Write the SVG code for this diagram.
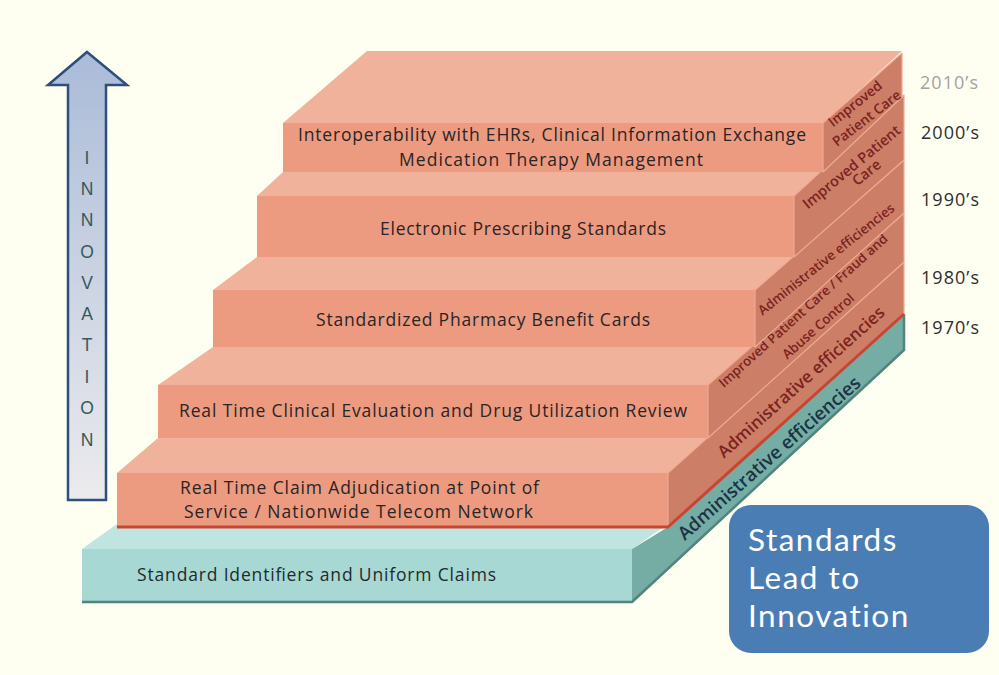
<svg xmlns="http://www.w3.org/2000/svg" width="999" height="675" viewBox="0 0 999 675">
  <defs>
    <linearGradient id="arrowFill" x1="0" y1="0" x2="0" y2="1">
      <stop offset="0" stop-color="#aabbd8"/>
      <stop offset="1" stop-color="#ecebed"/>
    </linearGradient>
    <style>
      .front { fill: #ec9b81; }
      .top { fill: #f1b29c; }
      .side { fill: #cd7e67; stroke: #eeab93; stroke-width: 1.2; stroke-linejoin: round; }
      .tfront { fill: #a7d8d3; }
      .ttop { fill: #c0e5e0; }
      .tside { fill: #75ada5; }
      .label { font-family: "Open Sans", Lato, "Liberation Sans", sans-serif; font-size: 17.5px; fill: #2a2424; text-anchor: middle; }
      .side-label { font-family: "Open Sans", Lato, "Liberation Sans", sans-serif; font-weight: 600; fill: #7a2320; text-anchor: middle; }
      .year { font-family: "Open Sans", Lato, "Liberation Sans", sans-serif; font-size: 18px; fill: #2e2e2e; }
      .arrow-letter { font-family: "Liberation Sans", Arial, sans-serif; font-size: 17.5px; fill: #35595c; text-anchor: middle; }
      .callout-text { font-family: Lato, "Open Sans", "Liberation Sans", sans-serif; font-size: 31.5px; letter-spacing: 1.5px; fill: #ffffff; }
    </style>
  </defs>

  <rect width="999" height="675" fill="#fefef1"/>

  <!-- innovation arrow -->
  <g id="innovation-arrow">
    <path d="M87,52 L127,85 L106,85 L106,500 L68,500 L68,85 L48,85 Z" fill="url(#arrowFill)" stroke="#2d4f7b" stroke-width="2.5" stroke-linejoin="miter"/>
    <text class="arrow-letter" x="87" y="164">I</text>
    <text class="arrow-letter" x="87" y="195">N</text>
    <text class="arrow-letter" x="87" y="226">N</text>
    <text class="arrow-letter" x="87" y="258">O</text>
    <text class="arrow-letter" x="87" y="289">V</text>
    <text class="arrow-letter" x="87" y="320">A</text>
    <text class="arrow-letter" x="87" y="351">T</text>
    <text class="arrow-letter" x="87" y="383">I</text>
    <text class="arrow-letter" x="87" y="414">O</text>
    <text class="arrow-letter" x="87" y="446">N</text>
  </g>

  <!-- base slab: identifiers and claims -->
  <g id="step-base">
    <polygon class="ttop" points="82,549 117,524 668,524 632,549"/>
    <polygon class="tside" points="632,549 632,602 904,350 904,314 668,527"/>
    <rect class="tfront" x="82" y="549" width="550" height="53"/>
    <polyline points="82,602 632,602 904,350 904,314" fill="none" stroke="#4f857d" stroke-width="2.5" stroke-linejoin="round"/>
    <text class="label" x="316.5" y="581" textLength="359" lengthAdjust="spacing" style="fill:#1f2b2b">Standard Identifiers and Uniform Claims</text>
    <text class="side-label" transform="translate(769,458) rotate(-41.4)" y="6.5" font-size="18.5" style="fill:#1b3343">Administrative efficiencies</text>
  </g>

  <!-- step 1: 1970s -->
  <g id="step-1970s">
    <polygon class="top" points="117,473 158,438 708,438 668,473"/>
    <rect class="front" x="117" y="473" width="551" height="54"/>
    <polygon class="side" points="668,473 668,527 904,314 904,262"/>
    <polyline points="117,527 668,527 904,314" fill="none" stroke="#c9452f" stroke-width="3" stroke-linejoin="round"/>
    <text class="label" x="359.5" y="494" textLength="359" lengthAdjust="spacing">Real Time Claim Adjudication at Point of</text>
    <text class="label" x="358.5" y="518" textLength="349" lengthAdjust="spacing">Service / Nationwide Telecom Network</text>
    <text class="side-label" transform="translate(801,382) rotate(-41.8)" y="6" font-size="17">Administrative efficiencies</text>
  </g>

  <!-- step 2: 1980s -->
  <g id="step-1980s">
    <polygon class="top" points="158,385 213,347 755,347 708,385"/>
    <rect class="front" x="158" y="385" width="550" height="53"/>
    <polygon class="side" points="708,385 708,438 904,262 904,213"/>
    <text class="label" x="433" y="417" textLength="508" lengthAdjust="spacing">Real Time Clinical Evaluation and Drug Utilization Review</text>
    <text class="side-label" transform="translate(803,310.5) rotate(-41.9)" y="4.8" font-size="13.3">Improved Patient Care / Fraud and</text>
    <text class="side-label" transform="translate(818,326) rotate(-41.5)" y="4.8" font-size="13.3">Abuse Control</text>
  </g>

  <!-- step 3: 1990s -->
  <g id="step-1990s">
    <polygon class="top" points="213,290 257,257 794,257 755,290"/>
    <rect class="front" x="213" y="290" width="542" height="57"/>
    <polygon class="side" points="755,290 755,347 904,213 904,160"/>
    <text class="label" x="483" y="326" textLength="334" lengthAdjust="spacing">Standardized Pharmacy Benefit Cards</text>
    <text class="side-label" transform="translate(826,259) rotate(-38.5)" y="4.8" font-size="13.3">Administrative efficiencies</text>
  </g>

  <!-- step 4: 2000s -->
  <g id="step-2000s">
    <polygon class="top" points="257,196 283,172 823,172 794,196"/>
    <rect class="front" x="257" y="196" width="537" height="61"/>
    <polygon class="side" points="794,196 794,257 904,160 904,95"/>
    <text class="label" x="523" y="235" textLength="286" lengthAdjust="spacing">Electronic Prescribing Standards</text>
    <text class="side-label" transform="translate(851.5,167) rotate(-39.5)" y="5" font-size="14.5">Improved Patient</text>
    <text class="side-label" transform="translate(866.5,172.5) rotate(-39.5)" y="5" font-size="14.5">Care</text>
  </g>

  <!-- step 5: 2010s -->
  <g id="step-2010s">
    <polygon class="top" points="283,123 367,51 902,51 823,123"/>
    <rect class="front" x="283" y="123" width="540" height="49"/>
    <polygon class="side" points="823,123 823,172 902,97 902,53"/>
    <text class="label" x="552" y="141" textLength="508" lengthAdjust="spacing">Interoperability with EHRs, Clinical Information Exchange</text>
    <text class="label" x="551" y="166" textLength="304" lengthAdjust="spacing">Medication Therapy Management</text>
    <text class="side-label" transform="translate(855,103.5) rotate(-38.5)" y="5" font-size="13.8">Improved</text>
    <text class="side-label" transform="translate(866.5,118) rotate(-37.5)" y="5" font-size="13.8">Patient Care</text>
  </g>

  <!-- decade labels -->
  <g id="decades">
    <text class="year" x="920" y="89" textLength="58" lengthAdjust="spacing" style="fill:#a3a3a3">2010’s</text>
    <text class="year" x="921" y="139" textLength="58" lengthAdjust="spacing">2000’s</text>
    <text class="year" x="921" y="206" textLength="58" lengthAdjust="spacing">1990’s</text>
    <text class="year" x="921" y="284" textLength="58" lengthAdjust="spacing">1980’s</text>
    <text class="year" x="921" y="334" textLength="58" lengthAdjust="spacing">1970’s</text>
  </g>

  <!-- summary callout -->
  <g id="callout">
    <rect x="729" y="505" width="260" height="148" rx="22" ry="22" fill="#4a7db4"/>
    <text class="callout-text" x="748" y="551">Standards</text>
    <text class="callout-text" x="748" y="589">Lead to</text>
    <text class="callout-text" x="748" y="627">Innovation</text>
  </g>
</svg>
